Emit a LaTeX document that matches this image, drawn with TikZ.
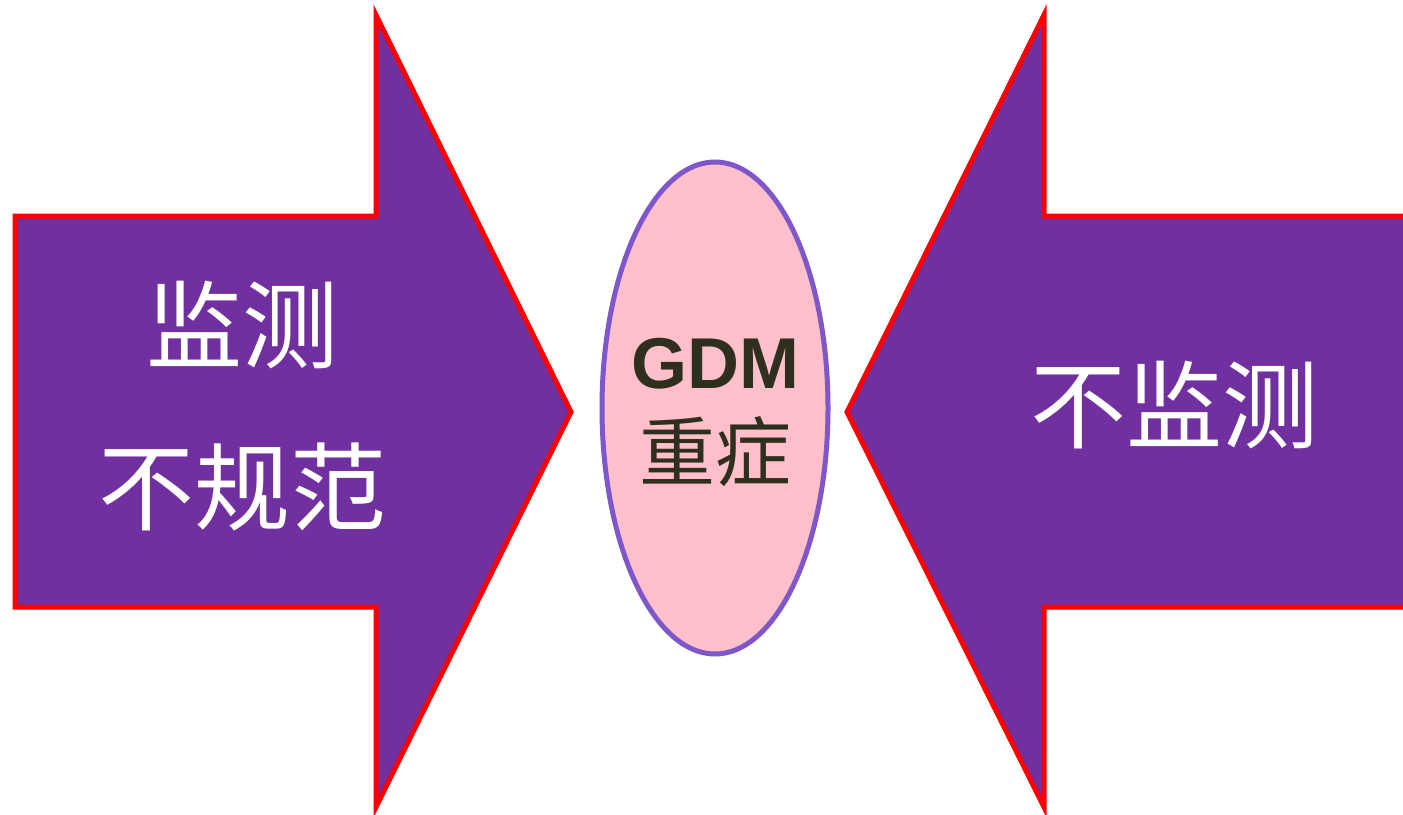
\documentclass[tikz,border=0pt]{standalone}
\usepackage{fontspec}
\setmainfont{Liberation Sans}
\newfontfamily\cjk{Noto Sans CJK SC}
\definecolor{arrowfill}{HTML}{7030A0}
\definecolor{arrowline}{HTML}{FF0000}
\definecolor{ovalline}{HTML}{7E57C8}
\definecolor{ovalfill}{HTML}{FFC0CB}
\definecolor{ovaltext}{HTML}{2F2F1F}
\tikzset{
  bigarrow/.style={fill=arrowfill, draw=arrowline, line width=5pt, line join=miter},
  whitetext/.style={text=white, font=\cjk\fontsize{96}{110}\selectfont, align=center, inner sep=0pt},
  oval/.style={ellipse, draw=ovalline, fill=ovalfill, line width=5pt, minimum width=226pt, minimum height=492pt, inner sep=0pt},
}
\usetikzlibrary{shapes.geometric}
\begin{document}
\begin{tikzpicture}[x=1pt,y=-1pt]
\useasboundingbox (0,0) rectangle (1403,814);
% left arrow
\draw[bigarrow] (15,216) -- (376,216) -- (376,15) -- (571,412) -- (376,807) -- (376,607) -- (15,607) -- cycle;
% right arrow
\begin{scope}
\clip (0,0) rectangle (1403,814);
\fill[arrowfill] (1410,216) -- (1044,216) -- (1044,15) -- (847,412) -- (1044,807) -- (1044,607) -- (1410,607) -- cycle;
\draw[draw=arrowline, line width=5pt, line join=miter] (1410,216) -- (1044,216) -- (1044,15) -- (847,412) -- (1044,807) -- (1044,607) -- (1410,607);
\end{scope}
% oval
\node[oval] (center) at (715,408) {};
\node[inner sep=0pt, text=ovaltext, font=\bfseries\fontsize{72}{80}\selectfont] (gdm) at (715,364) {GDM};
\node[inner sep=0pt, text=ovaltext, font=\cjk\fontsize{76}{80}\selectfont] (zz) at (715,452) {重症};
% texts
\node[whitetext] (l1) at (242,325) {监测};
\node[whitetext] (l2) at (242,487) {不规范};
\node[whitetext] (r1) at (1174,405) {不监测};
\end{tikzpicture}
\end{document}
